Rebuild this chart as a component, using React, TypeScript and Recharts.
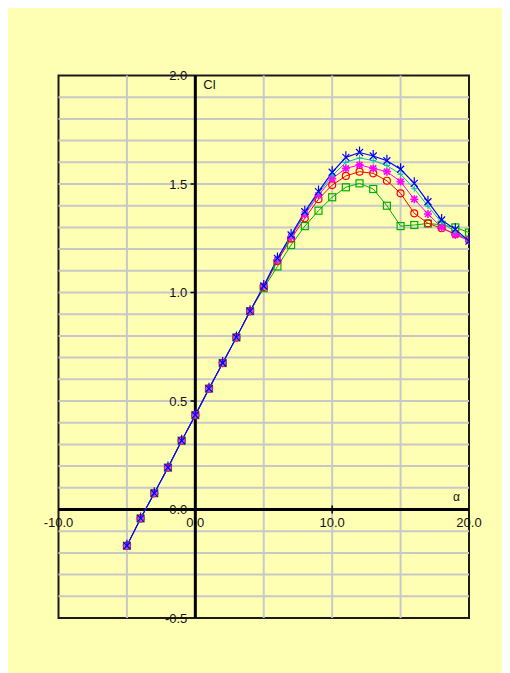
import React from 'react';
import { LineChart, Line, XAxis, YAxis, ReferenceLine, ReferenceDot, ReferenceArea } from 'recharts';

const alpha = [-5, -4, -3, -2, -1, 0, 1, 2, 3, 4, 5, 6, 7, 8, 9, 10, 11, 12, 13, 14, 15, 16, 17, 18, 19, 20];

const clBlue = [-0.167, -0.041, 0.075, 0.193, 0.317, 0.435, 0.557, 0.675, 0.793, 0.914, 1.03, 1.157, 1.265, 1.372, 1.465, 1.554, 1.623, 1.645, 1.629, 1.607, 1.568, 1.503, 1.418, 1.334, 1.291, 1.237];
const clCyan = [-0.167, -0.041, 0.075, 0.193, 0.317, 0.435, 0.557, 0.675, 0.793, 0.914, 1.03, 1.155, 1.262, 1.367, 1.457, 1.538, 1.6, 1.62, 1.608, 1.585, 1.545, 1.478, 1.398, 1.322, 1.28, 1.236];
const clMagenta = [-0.167, -0.041, 0.075, 0.193, 0.317, 0.435, 0.557, 0.675, 0.793, 0.914, 1.03, 1.15, 1.256, 1.36, 1.448, 1.525, 1.572, 1.588, 1.572, 1.557, 1.511, 1.43, 1.362, 1.3, 1.265, 1.24];
const clRed = [-0.167, -0.041, 0.075, 0.193, 0.317, 0.435, 0.557, 0.675, 0.793, 0.914, 1.025, 1.145, 1.248, 1.342, 1.43, 1.495, 1.537, 1.557, 1.549, 1.515, 1.457, 1.365, 1.319, 1.296, 1.27, 1.242];
const clGreen = [-0.167, -0.041, 0.075, 0.193, 0.317, 0.435, 0.557, 0.675, 0.793, 0.914, 1.02, 1.12, 1.219, 1.306, 1.377, 1.439, 1.485, 1.503, 1.477, 1.4, 1.306, 1.311, 1.318, 1.312, 1.3, 1.276];

const xTicks = [-10, 0, 10, 20];
const xTickLabels = ['-10.0', '0.0', '10.0', '20.0'];
const yTicks = [-0.5, 0, 0.5, 1.0, 1.5, 2.0];
const yTickLabels = ['-0.5', '0.0', '0.5', '1.0', '1.5', '2.0'];
const gridX = [-5, 5, 10, 15];
const gridY = [-0.4, -0.3, -0.2, -0.1, 0.1, 0.2, 0.3, 0.4, 0.5, 0.6, 0.7, 0.8, 0.9, 1.0, 1.1, 1.2, 1.3, 1.4, 1.5, 1.6, 1.7, 1.8, 1.9];
const yTickMarks = [0.5, 1.0, 1.5];
const xTickMarks = [10];

const data = alpha.map((a, i) => ({
  a,
  blue: clBlue[i],
  cyan: clCyan[i],
  magenta: clMagenta[i],
  red: clRed[i],
  green: clGreen[i],
}));

const FONT = '"Liberation Sans", Arial, sans-serif';

const squareDot = (color: string) => (p: any) => (
  <rect key={`sq-${p.index}`} x={p.cx - 3.5} y={p.cy - 3.5} width={7} height={7} fill="none" stroke={color} strokeWidth={1.2} />
);
const circleDot = (color: string) => (p: any) => (
  <circle key={`ci-${p.index}`} cx={p.cx} cy={p.cy} r={3.5} fill="none" stroke={color} strokeWidth={1.2} />
);
const starDot = (color: string) => (p: any) => (
  <g key={`st-${p.index}`} stroke={color} strokeWidth={1.6}>
    <line x1={p.cx - 4} y1={p.cy} x2={p.cx + 4} y2={p.cy} />
    <line x1={p.cx} y1={p.cy - 4} x2={p.cx} y2={p.cy + 4} />
    <line x1={p.cx - 3} y1={p.cy - 3} x2={p.cx + 3} y2={p.cy + 3} />
    <line x1={p.cx - 3} y1={p.cy + 3} x2={p.cx + 3} y2={p.cy - 3} />
  </g>
);
const plusDot = (color: string) => (p: any) => (
  <g key={`pl-${p.index}`} stroke={color} strokeWidth={1}>
    <line x1={p.cx - 3} y1={p.cy} x2={p.cx + 3} y2={p.cy} />
    <line x1={p.cx} y1={p.cy - 3} x2={p.cx} y2={p.cy + 3} />
  </g>
);
const xDot = (color: string) => (p: any) => (
  <g key={`x-${p.index}`} stroke={color} strokeWidth={1.2}>
    <line x1={p.cx - 3.5} y1={p.cy - 3.5} x2={p.cx + 3.5} y2={p.cy + 3.5} />
    <line x1={p.cx - 3.5} y1={p.cy + 3.5} x2={p.cx + 3.5} y2={p.cy - 3.5} />
    <line x1={p.cx} y1={p.cy - 6} x2={p.cx} y2={p.cy} />
  </g>
);

export default function App() {
  return (
    <div style={{ width: 502, height: 665, background: '#FFFFB4' }}>
      <LineChart
        width={502}
        height={665}
        data={data}
        margin={{ top: 67.5, right: 41, bottom: 55, left: 50.5 }}
      >
        <XAxis dataKey="a" type="number" domain={[-10, 20]} ticks={xTicks} hide allowDataOverflow />
        <YAxis type="number" domain={[-0.5, 2.0]} ticks={yTicks} hide allowDataOverflow />

        {gridX.map((v) => (
          <ReferenceLine key={`gx${v}`} x={v} stroke="#C8C8C8" strokeWidth={2} />
        ))}
        {gridY.map((v) => (
          <ReferenceLine key={`gy${v}`} y={v} stroke="#C8C8C8" strokeWidth={2} />
        ))}

        <ReferenceArea x1={-10} x2={20} y1={-0.5} y2={2.0} fill="none" fillOpacity={0} stroke="#1a1a1a" strokeWidth={2} />

        <ReferenceLine x={0} stroke="#000" strokeWidth={3} />
        <ReferenceLine y={0} stroke="#000" strokeWidth={3} />

        {yTickMarks.map((v) => (
          <ReferenceLine key={`ytm${v}`} segment={[{ x: -0.35, y: v }, { x: 0, y: v }]} stroke="#000" strokeWidth={1.5} />
        ))}
        {xTickMarks.map((v) => (
          <ReferenceLine key={`xtm${v}`} segment={[{ x: v, y: -0.018 }, { x: v, y: 0.018 }]} stroke="#000" strokeWidth={1.5} />
        ))}

        {xTicks.map((v, i) => (
          <ReferenceDot
            key={`xl${v}`}
            x={v}
            y={0}
            r={0}
            fill="none"
            stroke="none"
            label={{ value: xTickLabels[i], position: 'bottom', offset: 8, fontSize: 13, fill: '#111', fontFamily: FONT }}
          />
        ))}
        {yTicks.map((v, i) => (
          <ReferenceDot
            key={`yl${v}`}
            x={0}
            y={v}
            r={0}
            fill="none"
            stroke="none"
            label={{ value: yTickLabels[i], position: 'left', offset: 8, fontSize: 13, fill: '#111', fontFamily: FONT }}
          />
        ))}
        <ReferenceDot
          x={0}
          y={2.0}
          r={0}
          fill="none"
          stroke="none"
          label={{ value: 'Cl', position: 'right', offset: 8, dy: 9, fontSize: 13, fill: '#111', fontFamily: FONT }}
        />
        <ReferenceDot
          x={20}
          y={0}
          r={0}
          fill="none"
          stroke="none"
          label={{ value: 'α', position: 'left', offset: 9, dy: -13, fontSize: 12, fill: '#111', fontFamily: FONT }}
        />

        <Line dataKey="green" stroke="#00B000" strokeWidth={1} dot={squareDot('#00B000')} isAnimationActive={false} />
        <Line dataKey="red" stroke="#FF0000" strokeWidth={1} dot={circleDot('#FF0000')} isAnimationActive={false} />
        <Line dataKey="magenta" stroke="#FF00FF" strokeWidth={1} dot={starDot('#FF00FF')} isAnimationActive={false} />
        <Line dataKey="cyan" stroke="#00B8B8" strokeWidth={1} dot={plusDot('#00B8B8')} isAnimationActive={false} />
        <Line dataKey="blue" stroke="#0000FF" strokeWidth={1.2} dot={xDot('#0000FF')} isAnimationActive={false} />
      </LineChart>
    </div>
  );
}
